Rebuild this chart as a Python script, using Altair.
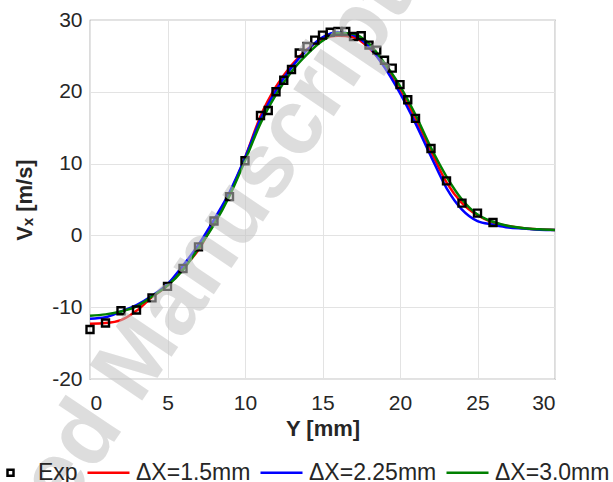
import altair as alt
import pandas as pd

# ---- data ----
y_model = list(range(0, 31))
v_red = [-12.3, -12.2, -11.8, -10.5, -8.6, -7.0, -4.6, -2.0, 1.8, 5.8, 10.8, 16.6, 20.7, 23.7, 25.9,
         27.3, 27.8, 27.6, 26.1, 23.6, 20.2, 16.3, 11.7, 7.4, 4.5, 2.8, 1.8, 1.3, 1.0, 0.85, 0.75]
v_blue = [-11.6, -11.4, -10.6, -9.7, -8.4, -6.8, -4.2, -1.3, 2.2, 6.0, 10.8, 16.2, 20.2, 23.4, 25.8,
          27.6, 28.3, 27.9, 26.3, 23.4, 19.8, 15.6, 11.0, 6.6, 3.6, 2.0, 1.5, 1.1, 0.95, 0.8, 0.75]
v_green = [-11.2, -11.0, -10.6, -9.9, -8.5, -7.0, -4.8, -1.8, 1.5, 5.5, 10.4, 15.6, 19.6, 22.8, 25.2,
           27.1, 28.2, 28.1, 26.7, 24.0, 20.8, 16.8, 12.2, 8.2, 5.0, 2.9, 1.9, 1.3, 1.0, 0.85, 0.75]

y_exp = [0, 1, 2, 3, 4, 5, 6, 7, 8, 9, 10, 11, 11.5, 12, 12.5, 13, 13.5, 14, 14.5, 15, 15.5, 16,
         16.5, 17, 17.5, 18, 18.5, 19, 19.5, 20, 20.5, 21, 22, 23, 24, 25, 26]
v_exp = [-13.1, -12.2, -10.5, -10.4, -8.7, -7.1, -4.6, -1.6, 2.0, 5.4, 10.4, 16.7, 17.4, 20.0, 21.6,
         23.1, 25.4, 26.3, 27.2, 27.9, 28.3, 28.4, 28.4, 27.7, 27.8, 26.5, 25.8, 24.4, 23.3, 21.0,
         18.9, 16.3, 12.1, 7.6, 4.5, 3.1, 1.8]

series_names = ["Exp", "ΔX=1.5mm", "ΔX=2.25mm", "ΔX=3.0mm"]
series_colors = ["#000000", "#ff0000", "#0000ff", "#008000"]

watermark_text = ["Accepted Manuscript"]

rows = []
for name, vals in zip(series_names[1:], [v_red, v_blue, v_green]):
    for y, v in zip(y_model, vals):
        rows.append({"series": name, "Y": y, "V": v})
df_lines = pd.DataFrame(rows)
df_exp = pd.DataFrame({"series": "Exp", "Y": y_exp, "V": v_exp})
df_wm = pd.DataFrame({"t": watermark_text})

FONT = "Liberation Sans"

SQUARE = "M-0.143,-0.143H0.143V0.143H-0.143Z"
color_scale = alt.Scale(domain=series_names, range=series_colors)
shape_scale = alt.Scale(domain=series_names, range=[SQUARE, "stroke", "stroke", "stroke"])

x_enc = alt.X("Y:Q", scale=alt.Scale(domain=[0, 30], nice=False),
              axis=alt.Axis(values=[0, 5, 10, 15, 20, 25, 30], title="Y [mm]",
                            labelExpr="'' + datum.value"))
y_enc = alt.Y("V:Q", scale=alt.Scale(domain=[-20, 30], nice=False),
              axis=alt.Axis(values=[-20, -10, 0, 10, 20, 30], title="Vₓ [m/s]",
                            labelExpr="'' + datum.value"))

legend = alt.Legend(orient="none", direction="horizontal", title=None,
                    legendX=-102, legendY=430, padding=0)

lines = alt.Chart(df_lines).mark_line(strokeWidth=2.5, interpolate="monotone").encode(
    x=x_enc, y=y_enc,
    color=alt.Color("series:N", scale=color_scale, legend=legend),
    detail="series:N",
)

points = alt.Chart(df_exp).mark_point(filled=False, strokeWidth=2.4, size=2400,
                                      opacity=1).encode(
    x=x_enc, y=y_enc,
    color=alt.Color("series:N", scale=color_scale, legend=legend),
    shape=alt.Shape("series:N", scale=shape_scale, legend=legend),
)

watermark = alt.Chart(df_wm).mark_text(
    font=FONT, fontSize=92, fontWeight="bold", color="#c3c3c3", opacity=0.55,
    angle=304, align="right", baseline="middle",
).encode(
    x=alt.value(300), y=alt.value(-37), text="t:N"
)

chart = alt.layer(lines, points, watermark).properties(
    width=465, height=359,
    autosize=alt.AutoSizeParams(type="none"),
    padding={"left": 90, "top": 20, "right": 58, "bottom": 103},
).configure_view(
    stroke="#8c8c8c", strokeWidth=1.2
).configure_axis(
    labelFont=FONT, labelFontSize=21, labelColor="#262626",
    titleFont=FONT, titleFontSize=22, titleFontWeight="bold", titleColor="#262626",
    grid=True, gridColor="#e3e3e3", gridWidth=1,
    domain=False, ticks=False,
).configure_axisX(
    labelPadding=13, titlePadding=5,
).configure_axisY(
    labelPadding=8, titlePadding=15,
).configure_legend(
    labelFont=FONT, labelFontSize=23, labelColor="#262626", labelBaseline="middle",
    symbolSize=1764, symbolStrokeWidth=2.5, labelOffset=5, columnPadding=4,
)

chart.save("out.html", embed_options={"renderer": "svg", "actions": False})
